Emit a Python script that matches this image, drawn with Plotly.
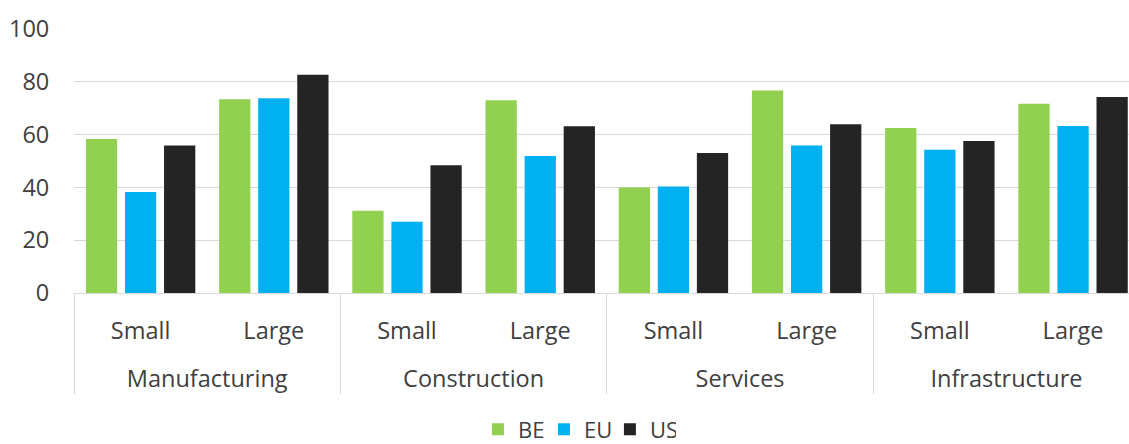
import plotly.graph_objects as go

sectors = ["Manufacturing", "Construction", "Services", "Infrastructure"]
sizes = ["Small", "Large"]
be_vals = [58.3, 73.4, 31.2, 73.0, 40.0, 76.7, 62.5, 71.7]
eu_vals = [38.3, 73.8, 27.0, 51.9, 40.3, 55.9, 54.3, 63.3]
us_vals = [55.9, 82.7, 48.4, 63.2, 53.0, 63.9, 57.6, 74.2]
y_ticks = [0, 20, 40, 60, 80, 100]

# leading line break only adds vertical room between the two label levels
x_outer = ["<br>" + s for s in sectors for _ in sizes]
x_inner = [z for _ in sectors for z in sizes]
x = [x_outer, x_inner]

FONT = "Open Sans"
FS = 23.5
TXT = "#404040"

fig = go.Figure()
for name, vals, col in [("BE", be_vals, "#92D050"), ("EU", eu_vals, "#00B0F0"), ("US", us_vals, "#242424")]:
    fig.add_trace(go.Bar(x=x, y=vals, name=name, marker=dict(color=col, line=dict(width=0))))

fig.update_layout(
    width=1129, height=444,
    margin=dict(l=74, r=0, t=29, b=151),
    paper_bgcolor="white", plot_bgcolor="white",
    barmode="group", bargap=0.12, bargroupgap=0.2,
    font=dict(family=FONT, size=FS, color=TXT),
    showlegend=True,
    legend=dict(orientation="h", x=0.511, xanchor="center", xref="container",
                y=0.033, yanchor="middle", yref="container", entrywidth=21,
                font=dict(family=FONT, size=22, color=TXT), traceorder="normal"),
)
fig.update_yaxes(range=[0, 100], tickvals=y_ticks, showgrid=True, gridcolor="#D9D9D9", gridwidth=1,
                 zeroline=False, showline=False, ticks="outside", ticklen=19, tickcolor="rgba(0,0,0,0)",
                 tickfont=dict(family=FONT, size=FS, color=TXT))
fig.update_xaxes(type="multicategory", range=[-0.5, 7.42], showline=True, linecolor="#D9D9D9", linewidth=1,
                 showdividers=True, dividercolor="#D9D9D9", dividerwidth=1,
                 ticklabelstandoff=17,
                 tickfont=dict(family=FONT, size=FS, color=TXT))

fig.write_html("out.html", config={"displayModeBar": False},
               post_script="document.body.style.margin='0';")
